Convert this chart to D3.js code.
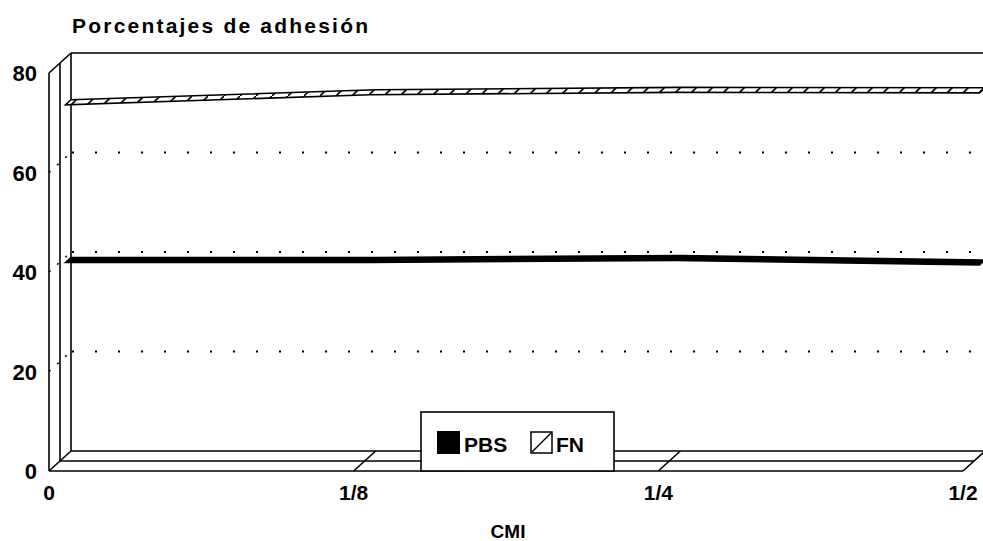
<!DOCTYPE html>
<html>
<head>
<meta charset="utf-8">
<script src="https://cdn.jsdelivr.net/npm/d3@7"></script>
<style>
  html, body { margin: 0; padding: 0; background: #fff; }
  svg { display: block; }
  text { font-family: "Liberation Sans", Arial, sans-serif; fill: #000; font-weight: bold; }
</style>
</head>
<body>
<svg id="chart" width="983" height="541"></svg>
<script>
// CMI concentrations along the floor of the box
const categories = ["0", "1/8", "1/4", "1/2"];
// Adhesion percentages per series
const pbsValues = [38.9, 38.9, 39.3, 38.4];
const fnValues = [70.6, 72.6, 73.1, 73.0];
const yTicks = [0, 20, 40, 60, 80];
const gridValues = [20, 40, 60];
const seriesNames = ["PBS", "FN"];

const svg = d3.select("#chart");
const W = 983, H = 541;

// front-plane scales; the box recedes by (depthX, depthY) at z = 1
const x = d3.scalePoint().domain(categories).range([49, 963]);
const y = d3.scaleLinear().domain([0, 80]).range([471, 73]);
const depthX = 22, depthY = -20;
const proj = (c, v, z) => [x(c) + z * depthX, y(v) + z * depthY];

const first = categories[0], last = categories[categories.length - 1];
const ink = "#000";

const defs = svg.append("defs");
const hatch = defs.append("pattern")
  .attr("id", "hatch")
  .attr("patternUnits", "userSpaceOnUse")
  .attr("width", 16).attr("height", 16);
hatch.append("rect").attr("width", 16).attr("height", 16).attr("fill", "#fff");
hatch.append("path").attr("d", "M-2,18 L18,-2").attr("stroke", ink).attr("stroke-width", 1.6);

const frame = svg.append("g").attr("fill", "none").attr("stroke", ink).attr("stroke-width", 1.6);
const seg = (a, b) => frame.append("line")
  .attr("x1", a[0]).attr("y1", a[1]).attr("x2", b[0]).attr("y2", b[1]);

// left wall: three verticals at front, middle and back depth
[0, 0.5, 1].forEach(z => seg(proj(first, 0, z), proj(first, 80, z)));
// top edge of the left wall and of the back wall
seg(proj(first, 80, 0), proj(first, 80, 1));
seg(proj(first, 80, 1), [W + 5, proj(first, 80, 1)[1]]);
// floor: three lengthwise lines
[0, 0.5, 1].forEach(z => seg(proj(first, 0, z), proj(last, 0, z)));
// floor crossings at each category
categories.forEach(c => seg(proj(c, 0, 0), proj(c, 0, 1)));

// dotted gridlines on the back wall
const grid = svg.append("g").attr("stroke", ink).attr("stroke-width", 2)
  .attr("stroke-dasharray", "2,21").attr("fill", "none");
gridValues.forEach(v => {
  const a = proj(first, v, 1), b = proj(last, v, 1);
  grid.append("line").attr("x1", a[0] + 1).attr("y1", a[1]).attr("x2", b[0]).attr("y2", b[1]);
});
// dotted gridlines across the left wall
const wallGrid = svg.append("g").attr("stroke", ink).attr("stroke-width", 1.5)
  .attr("stroke-dasharray", "2,9").attr("fill", "none");
gridValues.forEach(v => {
  const a = proj(first, v, 0), b = proj(first, v, 1);
  wallGrid.append("line").attr("x1", a[0]).attr("y1", a[1]).attr("x2", b[0]).attr("y2", b[1]);
});

// series ribbons: band between depth z0 and z1
const z0 = 0.75, z1 = 1;
function ribbon(values) {
  const top = categories.map((c, i) => proj(c, values[i], z1));
  const bottom = categories.map((c, i) => proj(c, values[i], z0)).reverse();
  return d3.line()(top.concat(bottom)) + "Z";
}
svg.append("path").attr("d", ribbon(fnValues))
  .attr("fill", "url(#hatch)").attr("stroke", ink).attr("stroke-width", 1.6);
svg.append("path").attr("d", ribbon(pbsValues))
  .attr("fill", ink).attr("stroke", ink).attr("stroke-width", 1.6);

// axis labels
svg.append("g").selectAll("text").data(yTicks).join("text")
  .attr("x", 37).attr("y", d => y(d) + 8)
  .attr("text-anchor", "end").attr("font-size", 22).text(d => d);
svg.append("g").selectAll("text").data(categories).join("text")
  .attr("x", d => x(d)).attr("y", 500)
  .attr("text-anchor", "middle").attr("font-size", 21).text(d => d);

svg.append("text").attr("x", 72).attr("y", 33).attr("font-size", 21)
  .attr("textLength", 296).attr("lengthAdjust", "spacing")
  .text("Porcentajes de adhesión");
svg.append("text").attr("x", 508).attr("y", 538).attr("text-anchor", "middle")
  .attr("font-size", 19).text("CMI");

// legend
const lg = svg.append("g");
lg.append("rect").attr("x", 421).attr("y", 412).attr("width", 193).attr("height", 59)
  .attr("fill", "#fff").attr("stroke", ink).attr("stroke-width", 1.6);
lg.append("rect").attr("x", 437).attr("y", 431).attr("width", 23).attr("height", 23).attr("fill", ink);
lg.append("text").attr("x", 464).attr("y", 452).attr("font-size", 21).text(seriesNames[0]);
lg.append("rect").attr("x", 531).attr("y", 432).attr("width", 21).attr("height", 21)
  .attr("fill", "#fff").attr("stroke", ink).attr("stroke-width", 1.5);
lg.append("line").attr("x1", 532).attr("y1", 452).attr("x2", 551).attr("y2", 433)
  .attr("stroke", ink).attr("stroke-width", 1.5);
lg.append("text").attr("x", 556).attr("y", 452).attr("font-size", 21).text(seriesNames[1]);
</script>
</body>
</html>
